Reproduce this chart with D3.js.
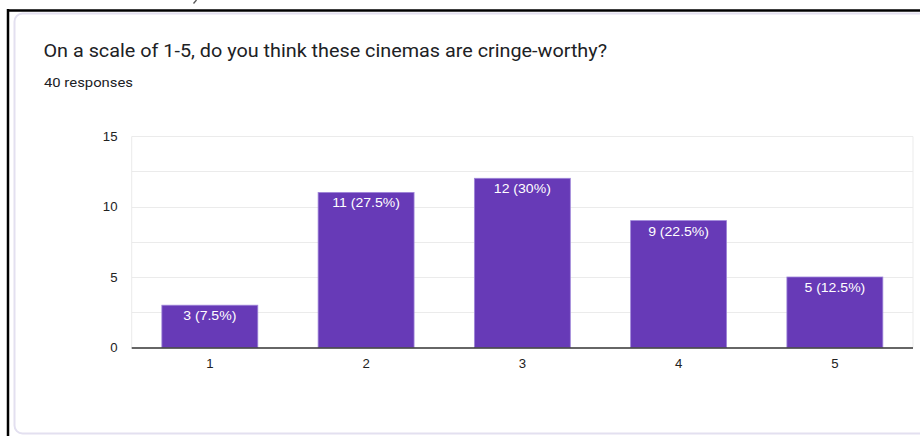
<!DOCTYPE html>
<html>
<head>
<meta charset="utf-8">
<script src="https://cdn.jsdelivr.net/npm/d3@7"></script>
<style>
  html, body { margin: 0; padding: 0; background: #fff; }
  svg { display: block; }
</style>
</head>
<body>
<svg id="chart" width="920" height="436"></svg>
<script>
// Survey results: rating counts for each point on the 1-5 scale
const categories = ["1", "2", "3", "4", "5"];
const counts = [3, 11, 12, 9, 5];
const totalResponses = 40;
const yTickValues = [0, 5, 10, 15];
const gridValues = [2.5, 5, 7.5, 10, 12.5, 15];
const titleText = "On a scale of 1-5, do you think these cinemas are cringe-worthy?";
const subtitleText = totalResponses + " responses";

const svg = d3.select("#chart");
const purple = "#673ab7";
const chartFont = "'Liberation Sans', Arial, sans-serif";
const stretch = 1.17; // horizontal widening of the chart lettering

// stretch a text node horizontally by a factor of its natural width
function widen(sel, factor) {
  sel.each(function () {
    const w = this.getComputedTextLength();
    d3.select(this).attr("textLength", w * factor).attr("lengthAdjust", "spacingAndGlyphs");
  });
}
// fit a text node to an exact width
function fitWidth(sel, width) {
  sel.attr("textLength", width).attr("lengthAdjust", "spacingAndGlyphs");
}

// outer frame
svg.append("line").attr("x1", 8).attr("x2", 8).attr("y1", 9).attr("y2", 436)
  .attr("stroke", "#000").attr("stroke-width", 2.5);
svg.append("line").attr("x1", 7).attr("x2", 920).attr("y1", 10.5).attr("y2", 10.5)
  .attr("stroke", "#000").attr("stroke-width", 2.5);

// small stroke poking in above the frame
svg.append("path").attr("d", "M196.5,0 L193.5,3.5")
  .attr("stroke", "#555").attr("stroke-width", 1.3).attr("fill", "none");

// card
svg.append("rect")
  .attr("x", 14.5).attr("y", 13.5).attr("width", 960).attr("height", 420)
  .attr("rx", 8).attr("fill", "#fff").attr("stroke", "#e3e0f0").attr("stroke-width", 2);

// heading
svg.append("text").attr("x", 43.5).attr("y", 57)
  .attr("font-family", "Roboto, sans-serif").attr("font-size", 17.5).attr("fill", "#202124")
  .text(titleText).call(fitWidth, 563.5);
svg.append("text").attr("x", 44).attr("y", 86.5)
  .attr("font-family", "Roboto, sans-serif").attr("font-size", 12.5).attr("fill", "#202124")
  .text(subtitleText).call(fitWidth, 89);

// scales
const plotLeft = 131.7, plotRight = 913, plotBottom = 347.5, plotTop = 136;
const x = d3.scaleBand().domain(categories).range([plotLeft, plotRight])
  .paddingInner(0.386).paddingOuter(0.193);
const y = d3.scaleLinear().domain([0, 15]).range([plotBottom, plotTop]);

// plot border and gridlines
svg.append("g").selectAll("line").data(gridValues).join("line")
  .attr("x1", plotLeft).attr("x2", plotRight)
  .attr("y1", d => Math.round(y(d)) + 0.5).attr("y2", d => Math.round(y(d)) + 0.5)
  .attr("stroke", "#ebebeb").attr("stroke-width", 1);
svg.append("line").attr("x1", plotLeft).attr("x2", plotLeft)
  .attr("y1", Math.round(plotTop) + 0.5).attr("y2", plotBottom)
  .attr("stroke", "#ebebeb");
svg.append("line").attr("x1", plotRight).attr("x2", plotRight)
  .attr("y1", Math.round(plotTop) + 0.5).attr("y2", plotBottom)
  .attr("stroke", "#ebebeb");

// y axis labels
const yAxis = d3.axisLeft(y).tickValues(yTickValues).tickSize(0).tickPadding(0).tickFormat(d3.format("d"));
const yg = svg.append("g").attr("transform", `translate(117.5,0)`).call(yAxis);
yg.select(".domain").remove();
yg.selectAll("text")
  .attr("font-family", chartFont).attr("font-size", 12).attr("fill", "#222")
  .attr("dy", "0.36em").attr("x", 0)
  .call(widen, 1.1);

// bars
svg.append("g").selectAll("rect").data(counts).join("rect")
  .attr("x", (d, i) => x(categories[i]))
  .attr("y", d => y(d))
  .attr("width", x.bandwidth())
  .attr("height", d => y(0) - y(d))
  .attr("fill", purple)
  .attr("stroke", "#9f86d9").attr("stroke-width", 0.8);

// value labels inside the bars
svg.append("g").selectAll("text").data(counts).join("text")
  .attr("x", (d, i) => x(categories[i]) + x.bandwidth() / 2)
  .attr("y", d => y(d) + 15)
  .attr("text-anchor", "middle")
  .attr("font-family", chartFont).attr("font-size", 12).attr("fill", "#fff")
  .text(d => `${d} (${d3.format(".3~")(d / totalResponses * 100)}%)`)
  .call(widen, stretch);

// baseline and x axis labels
const xAxis = d3.axisBottom(x).tickSize(0).tickPadding(0);
const xg = svg.append("g").attr("transform", `translate(0,${plotBottom})`).call(xAxis);
xg.select(".domain").remove();
svg.append("line").attr("x1", plotLeft).attr("x2", plotRight)
  .attr("y1", 348).attr("y2", 348).attr("stroke", "#333").attr("stroke-width", 1.5);
xg.selectAll("text")
  .attr("font-family", chartFont).attr("font-size", 12).attr("fill", "#222")
  .attr("y", 20).attr("dy", 0)
  .call(widen, 1.1);
</script>
</body>
</html>
